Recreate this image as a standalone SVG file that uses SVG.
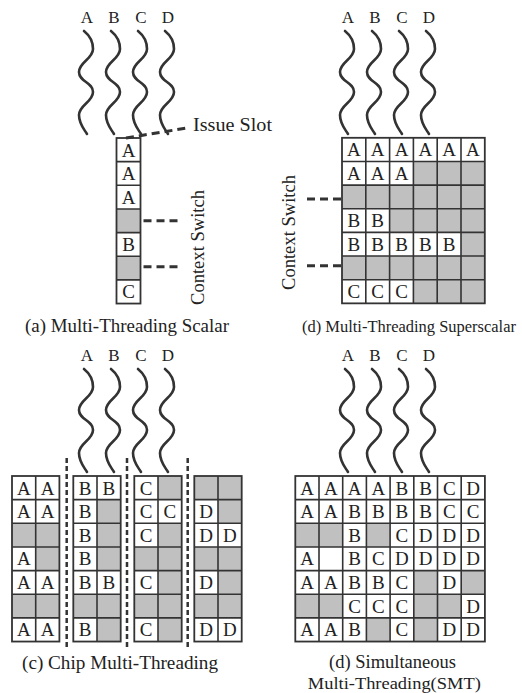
<svg xmlns="http://www.w3.org/2000/svg" xmlns:xlink="http://www.w3.org/1999/xlink" width="522" height="693" viewBox="0 0 522 693">
<style>
.bg{fill:#fff}
.gr{fill:#c0c0c0}
.ln{fill:none;stroke:#333;stroke-width:1.6}
.fr{fill:none;stroke:#333;stroke-width:1.8}
.cl{font-family:"Liberation Serif",serif;font-size:19px;fill:#222;text-anchor:middle}
.lb{font-family:"Liberation Serif",serif;font-size:17px;fill:#222;text-anchor:middle}
.cap{font-family:"Liberation Serif",serif;font-size:18px;fill:#222;text-anchor:middle}
.wv{fill:none;stroke:#333;stroke-width:2.6;stroke-linecap:round}
.dh{fill:none;stroke:#333;stroke-width:3;stroke-dasharray:8 5}
.dv{fill:none;stroke:#333;stroke-width:2.5;stroke-dasharray:5 3}
</style>
<defs>
<path id="wave" d="M-2,0 C3,4 7,10 7,18 C7,28 -7,31 -7,41 C-7,51 7,51 7,61 C7,71 -7,74 -7,84 C-7,93 -2,98 1,103"/>
</defs>

<!-- Panel (a) -->
<g id="panel-a">
  <g id="threads-a">
    <text class="lb" x="87" y="22.5">A</text>
    <text class="lb" x="114" y="22.5">B</text>
    <text class="lb" x="141" y="22.5">C</text>
    <text class="lb" x="168" y="22.5">D</text>
    <use href="#wave" class="wv" x="86" y="31"/>
    <use href="#wave" class="wv" x="113" y="31"/>
    <use href="#wave" class="wv" x="140" y="31"/>
    <use href="#wave" class="wv" x="167" y="31"/>
  </g>
  <g id="grid-a" transform="translate(116.5,138)">
    <rect class="bg" x="0" y="0" width="24" height="165.55"/>
    <rect class="gr" x="0" y="70.95" width="24" height="23.65"/>
    <rect class="gr" x="0" y="118.25" width="24" height="23.65"/>
    <path class="ln" d="M0,23.65H24M0,47.3H24M0,70.95H24M0,94.6H24M0,118.25H24M0,141.9H24"/>
    <rect class="fr" x="0" y="0" width="24" height="165.55"/>
    <text class="cl" x="12" y="18.5">A</text>
    <text class="cl" x="12" y="42.15">A</text>
    <text class="cl" x="12" y="65.8">A</text>
    <text class="cl" x="12" y="113.1">B</text>
    <text class="cl" x="12" y="160.4">C</text>
  </g>
  <text id="label-issue" class="cap" style="text-anchor:start" x="193" y="131" textLength="79" lengthAdjust="spacingAndGlyphs">Issue Slot</text>
  <text id="label-cs-a" class="cap" transform="rotate(-90 203.5 247.5)" x="203.5" y="247.5" textLength="115" lengthAdjust="spacingAndGlyphs">Context Switch</text>
  <text id="cap-a" class="cap" x="127" y="331.5" textLength="204" lengthAdjust="spacingAndGlyphs">(a) Multi-Threading Scalar</text>
</g>

<!-- Panel (d) superscalar -->
<g id="panel-d">
  <g id="threads-d">
    <text class="lb" x="348" y="22.5">A</text>
    <text class="lb" x="375" y="22.5">B</text>
    <text class="lb" x="402" y="22.5">C</text>
    <text class="lb" x="429" y="22.5">D</text>
    <use href="#wave" class="wv" x="347" y="31"/>
    <use href="#wave" class="wv" x="374" y="31"/>
    <use href="#wave" class="wv" x="401" y="31"/>
    <use href="#wave" class="wv" x="428" y="31"/>
  </g>
  <g id="grid-d" transform="translate(342,137.8)">
    <rect class="bg" x="0" y="0" width="142.8" height="165.55"/>
    <rect class="gr" x="71.4" y="23.65" width="71.4" height="23.65"/>
    <rect class="gr" x="0" y="47.3" width="142.8" height="23.65"/>
    <rect class="gr" x="47.6" y="70.95" width="95.2" height="23.65"/>
    <rect class="gr" x="119" y="94.6" width="23.8" height="23.65"/>
    <rect class="gr" x="0" y="118.25" width="142.8" height="23.65"/>
    <rect class="gr" x="71.4" y="141.9" width="71.4" height="23.65"/>
    <path class="ln" d="M23.8,0V165.55M47.6,0V165.55M71.4,0V165.55M95.2,0V165.55M119,0V165.55M0,23.65H142.8M0,47.3H142.8M0,70.95H142.8M0,94.6H142.8M0,118.25H142.8M0,141.9H142.8"/>
    <rect class="fr" x="0" y="0" width="142.8" height="165.55"/>
    <text class="cl" x="11.9" y="18.5">A</text>
    <text class="cl" x="35.7" y="18.5">A</text>
    <text class="cl" x="59.5" y="18.5">A</text>
    <text class="cl" x="83.3" y="18.5">A</text>
    <text class="cl" x="107.1" y="18.5">A</text>
    <text class="cl" x="130.9" y="18.5">A</text>
    <text class="cl" x="11.9" y="42.15">A</text>
    <text class="cl" x="35.7" y="42.15">A</text>
    <text class="cl" x="59.5" y="42.15">A</text>
    <text class="cl" x="11.9" y="89.45">B</text>
    <text class="cl" x="35.7" y="89.45">B</text>
    <text class="cl" x="11.9" y="113.1">B</text>
    <text class="cl" x="35.7" y="113.1">B</text>
    <text class="cl" x="59.5" y="113.1">B</text>
    <text class="cl" x="83.3" y="113.1">B</text>
    <text class="cl" x="107.1" y="113.1">B</text>
    <text class="cl" x="11.9" y="160.4">C</text>
    <text class="cl" x="35.7" y="160.4">C</text>
    <text class="cl" x="59.5" y="160.4">C</text>
  </g>
  <text id="label-cs-d" class="cap" transform="rotate(-90 294.5 232.5)" x="294.5" y="232.5" textLength="115" lengthAdjust="spacingAndGlyphs">Context Switch</text>
  <text id="cap-d" class="cap" style="font-size:16.5px" x="409" y="332" textLength="214" lengthAdjust="spacingAndGlyphs">(d) Multi-Threading Superscalar</text>
</g>

<!-- Panel (c) chip multi-threading -->
<g id="panel-c">
  <g id="threads-c">
    <text class="lb" x="87" y="360.5">A</text>
    <text class="lb" x="114" y="360.5">B</text>
    <text class="lb" x="141" y="360.5">C</text>
    <text class="lb" x="168" y="360.5">D</text>
    <use href="#wave" class="wv" x="86" y="369"/>
    <use href="#wave" class="wv" x="113" y="369"/>
    <use href="#wave" class="wv" x="140" y="369"/>
    <use href="#wave" class="wv" x="167" y="369"/>
  </g>
  <g id="core-a" transform="translate(12,476)">
    <rect class="bg" x="0" y="0" width="47.4" height="165.55"/>
    <rect class="gr" x="0" y="47.3" width="47.4" height="23.65"/>
    <rect class="gr" x="23.7" y="70.95" width="23.7" height="23.65"/>
    <rect class="gr" x="0" y="118.25" width="47.4" height="23.65"/>
    <path class="ln" d="M23.7,0V165.55M0,23.65H47.4M0,47.3H47.4M0,70.95H47.4M0,94.6H47.4M0,118.25H47.4M0,141.9H47.4"/>
    <rect class="fr" x="0" y="0" width="47.4" height="165.55"/>
    <text class="cl" x="11.85" y="18.5">A</text>
    <text class="cl" x="35.55" y="18.5">A</text>
    <text class="cl" x="11.85" y="42.15">A</text>
    <text class="cl" x="35.55" y="42.15">A</text>
    <text class="cl" x="11.85" y="89.45">A</text>
    <text class="cl" x="11.85" y="113.1">A</text>
    <text class="cl" x="35.55" y="113.1">A</text>
    <text class="cl" x="11.85" y="160.4">A</text>
    <text class="cl" x="35.55" y="160.4">A</text>
  </g>
  <g id="core-b" transform="translate(73.3,476)">
    <rect class="bg" x="0" y="0" width="47.4" height="165.55"/>
    <rect class="gr" x="23.7" y="23.65" width="23.7" height="70.95"/>
    <rect class="gr" x="0" y="118.25" width="47.4" height="23.65"/>
    <rect class="gr" x="23.7" y="141.9" width="23.7" height="23.65"/>
    <path class="ln" d="M23.7,0V165.55M0,23.65H47.4M0,47.3H47.4M0,70.95H47.4M0,94.6H47.4M0,118.25H47.4M0,141.9H47.4"/>
    <rect class="fr" x="0" y="0" width="47.4" height="165.55"/>
    <text class="cl" x="11.85" y="18.5">B</text>
    <text class="cl" x="35.55" y="18.5">B</text>
    <text class="cl" x="11.85" y="42.15">B</text>
    <text class="cl" x="11.85" y="65.8">B</text>
    <text class="cl" x="11.85" y="89.45">B</text>
    <text class="cl" x="11.85" y="113.1">B</text>
    <text class="cl" x="35.55" y="113.1">B</text>
    <text class="cl" x="11.85" y="160.4">B</text>
  </g>
  <g id="core-c" transform="translate(134.3,476)">
    <rect class="bg" x="0" y="0" width="47.4" height="165.55"/>
    <rect class="gr" x="23.7" y="0" width="23.7" height="23.65"/>
    <rect class="gr" x="23.7" y="47.3" width="23.7" height="118.25"/>
    <rect class="gr" x="0" y="70.95" width="23.7" height="23.65"/>
    <rect class="gr" x="0" y="118.25" width="23.7" height="23.65"/>
    <path class="ln" d="M23.7,0V165.55M0,23.65H47.4M0,47.3H47.4M0,70.95H47.4M0,94.6H47.4M0,118.25H47.4M0,141.9H47.4"/>
    <rect class="fr" x="0" y="0" width="47.4" height="165.55"/>
    <text class="cl" x="11.85" y="18.5">C</text>
    <text class="cl" x="11.85" y="42.15">C</text>
    <text class="cl" x="35.55" y="42.15">C</text>
    <text class="cl" x="11.85" y="65.8">C</text>
    <text class="cl" x="11.85" y="113.1">C</text>
    <text class="cl" x="11.85" y="160.4">C</text>
  </g>
  <g id="core-d" transform="translate(194.3,476)">
    <rect class="bg" x="0" y="0" width="47.4" height="165.55"/>
    <rect class="gr" x="0" y="0" width="47.4" height="23.65"/>
    <rect class="gr" x="23.7" y="23.65" width="23.7" height="23.65"/>
    <rect class="gr" x="0" y="70.95" width="47.4" height="23.65"/>
    <rect class="gr" x="23.7" y="94.6" width="23.7" height="23.65"/>
    <rect class="gr" x="0" y="118.25" width="47.4" height="23.65"/>
    <path class="ln" d="M23.7,0V165.55M0,23.65H47.4M0,47.3H47.4M0,70.95H47.4M0,94.6H47.4M0,118.25H47.4M0,141.9H47.4"/>
    <rect class="fr" x="0" y="0" width="47.4" height="165.55"/>
    <text class="cl" x="11.85" y="42.15">D</text>
    <text class="cl" x="11.85" y="65.8">D</text>
    <text class="cl" x="35.55" y="65.8">D</text>
    <text class="cl" x="11.85" y="113.1">D</text>
    <text class="cl" x="11.85" y="160.4">D</text>
    <text class="cl" x="35.55" y="160.4">D</text>
  </g>
  <text id="cap-c" class="cap" x="120" y="668.5" textLength="196" lengthAdjust="spacingAndGlyphs">(c) Chip Multi-Threading</text>
</g>

<!-- Panel SMT -->
<g id="panel-smt">
  <g id="threads-smt">
    <text class="lb" x="348" y="360.5">A</text>
    <text class="lb" x="375" y="360.5">B</text>
    <text class="lb" x="402" y="360.5">C</text>
    <text class="lb" x="429" y="360.5">D</text>
    <use href="#wave" class="wv" x="347" y="369"/>
    <use href="#wave" class="wv" x="374" y="369"/>
    <use href="#wave" class="wv" x="401" y="369"/>
    <use href="#wave" class="wv" x="428" y="369"/>
  </g>
  <g id="grid-smt" transform="translate(295.3,476)">
    <rect class="bg" x="0" y="0" width="189.6" height="165.55"/>
    <rect class="gr" x="0" y="47.3" width="47.4" height="23.65"/>
    <rect class="gr" x="71.1" y="47.3" width="23.7" height="23.65"/>
    <rect class="gr" x="118.5" y="94.6" width="23.7" height="23.65"/>
    <rect class="gr" x="165.9" y="94.6" width="23.7" height="23.65"/>
    <rect class="gr" x="0" y="118.25" width="47.4" height="23.65"/>
    <rect class="gr" x="118.5" y="118.25" width="47.4" height="23.65"/>
    <rect class="gr" x="71.1" y="141.9" width="23.7" height="23.65"/>
    <rect class="gr" x="118.5" y="141.9" width="23.7" height="23.65"/>
    <path class="ln" d="M23.7,0V165.55M47.4,0V165.55M71.1,0V165.55M94.8,0V165.55M118.5,0V165.55M142.2,0V165.55M165.9,0V165.55M0,23.65H189.6M0,47.3H189.6M0,70.95H189.6M0,94.6H189.6M0,118.25H189.6M0,141.9H189.6"/>
    <rect class="fr" x="0" y="0" width="189.6" height="165.55"/>
    <text class="cl" x="11.85" y="18.5">A</text>
    <text class="cl" x="35.55" y="18.5">A</text>
    <text class="cl" x="59.25" y="18.5">A</text>
    <text class="cl" x="82.95" y="18.5">A</text>
    <text class="cl" x="106.65" y="18.5">B</text>
    <text class="cl" x="130.35" y="18.5">B</text>
    <text class="cl" x="154.05" y="18.5">C</text>
    <text class="cl" x="177.75" y="18.5">D</text>
    <text class="cl" x="11.85" y="42.15">A</text>
    <text class="cl" x="35.55" y="42.15">A</text>
    <text class="cl" x="59.25" y="42.15">B</text>
    <text class="cl" x="82.95" y="42.15">B</text>
    <text class="cl" x="106.65" y="42.15">B</text>
    <text class="cl" x="130.35" y="42.15">B</text>
    <text class="cl" x="154.05" y="42.15">C</text>
    <text class="cl" x="177.75" y="42.15">C</text>
    <text class="cl" x="59.25" y="65.8">B</text>
    <text class="cl" x="106.65" y="65.8">C</text>
    <text class="cl" x="130.35" y="65.8">D</text>
    <text class="cl" x="154.05" y="65.8">D</text>
    <text class="cl" x="177.75" y="65.8">D</text>
    <text class="cl" x="11.85" y="89.45">A</text>
    <text class="cl" x="59.25" y="89.45">B</text>
    <text class="cl" x="82.95" y="89.45">C</text>
    <text class="cl" x="106.65" y="89.45">D</text>
    <text class="cl" x="130.35" y="89.45">D</text>
    <text class="cl" x="154.05" y="89.45">D</text>
    <text class="cl" x="177.75" y="89.45">D</text>
    <text class="cl" x="11.85" y="113.1">A</text>
    <text class="cl" x="35.55" y="113.1">A</text>
    <text class="cl" x="59.25" y="113.1">B</text>
    <text class="cl" x="82.95" y="113.1">B</text>
    <text class="cl" x="106.65" y="113.1">C</text>
    <text class="cl" x="154.05" y="113.1">D</text>
    <text class="cl" x="59.25" y="136.75">C</text>
    <text class="cl" x="82.95" y="136.75">C</text>
    <text class="cl" x="106.65" y="136.75">C</text>
    <text class="cl" x="177.75" y="136.75">D</text>
    <text class="cl" x="11.85" y="160.4">A</text>
    <text class="cl" x="35.55" y="160.4">A</text>
    <text class="cl" x="59.25" y="160.4">B</text>
    <text class="cl" x="106.65" y="160.4">C</text>
    <text class="cl" x="154.05" y="160.4">D</text>
    <text class="cl" x="177.75" y="160.4">D</text>
  </g>
  <text id="cap-smt-1" class="cap" x="392.5" y="667.5" textLength="127" lengthAdjust="spacingAndGlyphs">(d) Simultaneous</text>
  <text id="cap-smt-2" class="cap" style="font-size:17px" x="394.3" y="688.5" textLength="173" lengthAdjust="spacingAndGlyphs">Multi-Threading(SMT)</text>
</g>

<!-- Connectors: dashed leaders and separators -->
<g id="connectors">
  <path class="dh" d="M126,138 L190,127.5"/>
  <path class="dh" d="M143.5,220.7 H182"/>
  <path class="dh" d="M143.5,266.7 H182"/>
  <path class="dh" d="M341,199 H304"/>
  <path class="dh" d="M341,265.7 H304"/>
  <path class="dv" d="M66.7,458 V648"/>
  <path class="dv" d="M127,458 V648"/>
  <path class="dv" d="M187.7,458 V648"/>
</g>
</svg>
